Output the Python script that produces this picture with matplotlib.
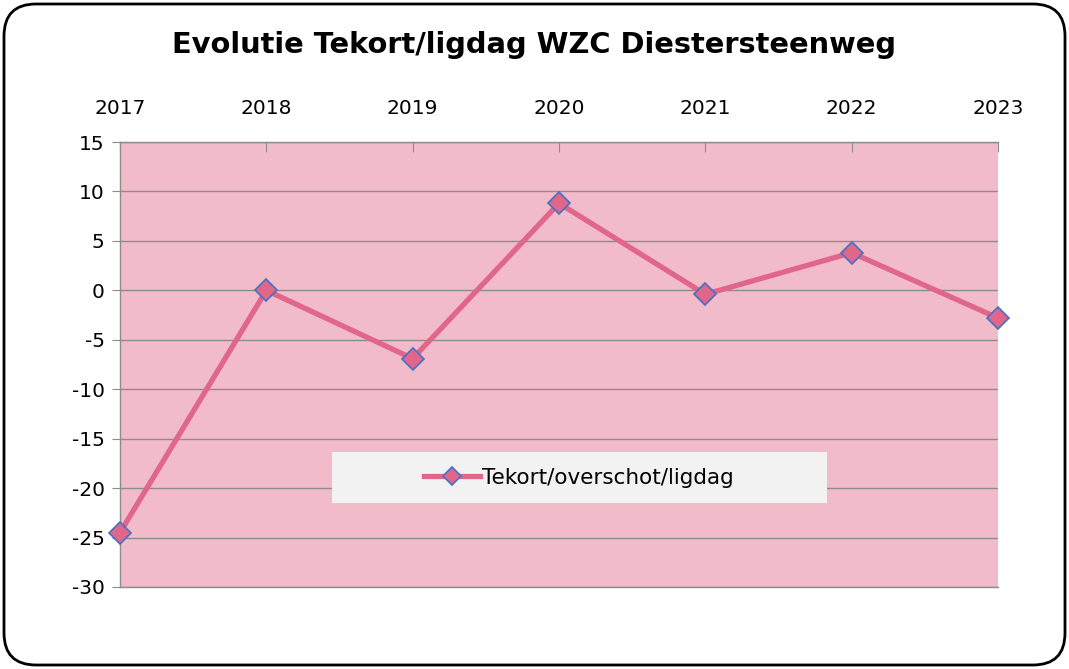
import matplotlib
matplotlib.use("Agg")
import matplotlib.pyplot as plt
from matplotlib.patches import FancyBboxPatch, Rectangle

years = ["2017", "2018", "2019", "2020", "2021", "2022", "2023"]
tekort = [-24.5, 0.0, -6.9, 8.8, -0.4, 3.8, -2.8]
yticks = [-30, -25, -20, -15, -10, -5, 0, 5, 10, 15]

pink_bg = "#F2BBCA"
line_col = "#E0668A"
grid_col = "#8C8C8C"

fig = plt.figure(figsize=(10.69, 6.69), dpi=100)
ax = fig.add_axes([120 / 1069, 82 / 669, 878 / 1069, 445 / 669])
ax.set_facecolor(pink_bg)

x = list(range(len(years)))
ax.plot(x, tekort, color=line_col, linewidth=3.8, marker="D", markersize=11,
        markerfacecolor=line_col, markeredgecolor="#4472C4", markeredgewidth=1.2,
        label="Tekort/overschot/ligdag", zorder=5, clip_on=False)

ax.set_xlim(0, len(years) - 1)
ax.set_ylim(-30, 15)
ax.set_yticks(yticks)
ax.set_yticklabels([str(v) for v in yticks], fontsize=14.5)
ax.set_xticks(x)
ax.set_xticklabels(years, fontsize=14.5)
ax.xaxis.tick_top()
ax.tick_params(axis="x", direction="in", length=7, color=grid_col, pad=17.5)
ax.tick_params(axis="y", direction="out", length=6, color=grid_col, pad=5)
ax.yaxis.grid(True, color=grid_col, linewidth=1)
ax.set_axisbelow(True)
ax.spines["right"].set_visible(False)
for side in ["left", "top", "bottom"]:
    ax.spines[side].set_color(grid_col)
    ax.spines[side].set_linewidth(1)

# legend box
ax.add_patch(Rectangle(((332 - 120) / 878, (587 - 503) / 445), (827 - 332) / 878, 51 / 445,
                       transform=ax.transAxes, facecolor="#F2F2F2", edgecolor="none", zorder=6))
leg = ax.legend(loc="center", bbox_to_anchor=(0.523, 0.246), frameon=False, fontsize=15.5,
                handlelength=2.6, handletextpad=0.1, markerscale=0.8)
leg.set_zorder(7)

fig.text(0.5, 1 - 45 / 669, "Evolutie Tekort/ligdag WZC Diestersteenweg", ha="center", va="center",
         fontsize=20.8, fontweight="bold")

frame = FancyBboxPatch((4 / 1069, 4 / 669), 1061 / 1069, 661 / 669,
                       boxstyle="round,pad=0,rounding_size=0.03", transform=fig.transFigure,
                       facecolor="none", edgecolor="black", linewidth=2, mutation_aspect=1069 / 669)
fig.patches.append(frame)

fig.savefig("out.png", dpi=100)
